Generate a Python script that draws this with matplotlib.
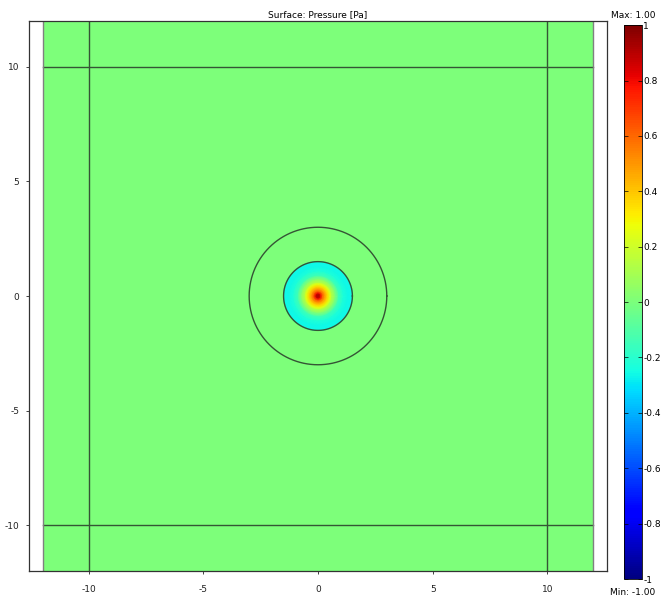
import numpy as np
import matplotlib
matplotlib.use('Agg')
import matplotlib.pyplot as plt
from matplotlib.colors import Normalize

# geometry of the model (m)
domain_half = 12.0
pml_inner = 10.0
source_radius = 1.5
ring_radius = 3.0

# radial pressure profile inside the source disc
profile_r = [0.0, 0.1, 0.2, 0.3, 0.4, 0.5, 0.6, 0.75, 0.9, 1.1, 1.3, 1.5]
profile_p = [1.0, 0.8, 0.6, 0.47, 0.36, 0.26, 0.13, 0.0, -0.15, -0.23, -0.26, -0.26]

ticks = [-10, -5, 0, 5, 10]
cbar_ticks = [-1, -0.8, -0.6, -0.4, -0.2, 0, 0.2, 0.4, 0.6, 0.8, 1]
p_min, p_max = -1.0, 1.0

plt.rcParams['font.family'] = 'DejaVu Sans'
fig = plt.figure(figsize=(6.63, 6.02), dpi=100)
ax = fig.add_axes([0.0437, 0.0515, 0.8718, 0.9136])
norm = Normalize(p_min, p_max)
cmap = plt.get_cmap('jet')

# background field (zero pressure) over the full domain
xs = np.array([-domain_half, domain_half])
zero = np.zeros((1, 1))
ax.pcolormesh(xs, xs, zero, cmap=cmap, norm=norm, shading='flat')

# source disc: polar mesh with gouraud shading
th = np.linspace(0, 2 * np.pi, 121)
R, T = np.meshgrid(profile_r, th)
P = np.tile(profile_p, (len(th), 1))
mesh = ax.pcolormesh(R * np.cos(T), R * np.sin(T), P, cmap=cmap, norm=norm,
                     shading='gouraud')

# boundaries
lc = '#355535'
lw = 1.0
for v in (-pml_inner, pml_inner):
    ax.plot([v, v], [-domain_half, domain_half], color=lc, lw=lw)
    ax.plot([-domain_half, domain_half], [v, v], color=lc, lw=lw)
for v in (-domain_half, domain_half):
    ax.plot([v, v], [-domain_half, domain_half], color='#808080', lw=1.0)
for rad in (source_radius, ring_radius):
    ax.plot(rad * np.cos(th), rad * np.sin(th), color=lc, lw=lw)

ax.set_xlim(-12.6, 12.6)
ax.set_ylim(-12, 12)
ax.set_xticks(ticks)
ax.set_yticks(ticks)
ax.set_xticklabels([str(t) for t in ticks])
ax.set_yticklabels([str(t) for t in ticks])
ax.tick_params(labelsize=6.5, length=2, width=0.6, pad=5, colors='#222222')
ax.tick_params(axis='x', pad=8)
for s in ax.spines.values():
    s.set_color('#333333')
    s.set_linewidth(0.9)
ax.set_title('Surface: Pressure [Pa]', fontsize=6.5, pad=3)

# colour bar
cax = fig.add_axes([0.941, 0.0382, 0.027, 0.920])
cb = fig.colorbar(mesh, cax=cax, ticks=cbar_ticks)
cb.outline.set_linewidth(0.6)
cb.ax.set_yticklabels(['%g' % t for t in cbar_ticks])
cb.ax.tick_params(labelsize=6.5, direction='in', length=3, width=0.5,
                  left=True, right=True, pad=1)
fig.text(0.9545, 0.975, 'Max: 1.00', ha='center', va='center', fontsize=6.5)
fig.text(0.9545, 0.016, 'Min: -1.00', ha='center', va='center', fontsize=6.5)

fig.savefig('out.png', dpi=100)
